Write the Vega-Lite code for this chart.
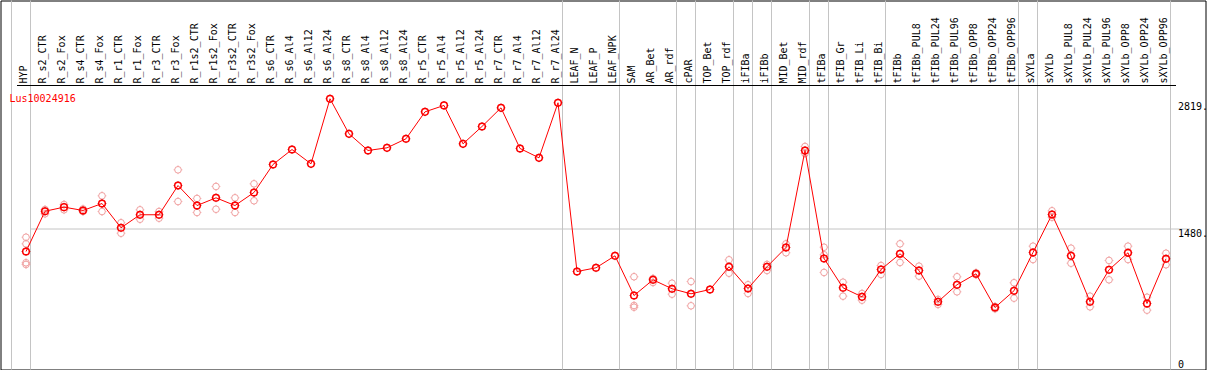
{
  "$schema": "https://vega.github.io/schema/vega-lite/v6.json",
  "width": 1205,
  "height": 369,
  "autosize": {"type": "none"},
  "padding": {"left": 0.5, "top": 0.5, "right": 3.5, "bottom": 0.5},
  "background": "white",
  "title": {"text": "Lus10024916", "orient": "top", "anchor": "start", "frame": "group", "offset": -112, "dx": 9, "baseline": "alphabetic", "color": "#ff0000", "font": "DejaVu Sans Mono", "fontSize": 10, "fontWeight": "normal"},
  "config": {"view": {"stroke": "#000000", "strokeWidth": 1}, "font": "DejaVu Sans Mono"},
  "datasets": {
    "means": [
      {"i": 1, "sample": "HYP", "group": "HYP", "mean": 1239},
      {"i": 2, "sample": "R_s2_CTR", "group": "R", "mean": 1662},
      {"i": 3, "sample": "R_s2_Fox", "group": "R", "mean": 1705},
      {"i": 4, "sample": "R_s4_CTR", "group": "R", "mean": 1670},
      {"i": 5, "sample": "R_s4_Fox", "group": "R", "mean": 1743},
      {"i": 6, "sample": "R_r1_CTR", "group": "R", "mean": 1488},
      {"i": 7, "sample": "R_r1_Fox", "group": "R", "mean": 1625},
      {"i": 8, "sample": "R_r3_CTR", "group": "R", "mean": 1625},
      {"i": 9, "sample": "R_r3_Fox", "group": "R", "mean": 1932},
      {"i": 10, "sample": "R_r1s2_CTR", "group": "R", "mean": 1722},
      {"i": 11, "sample": "R_r1s2_Fox", "group": "R", "mean": 1803},
      {"i": 12, "sample": "R_r3s2_CTR", "group": "R", "mean": 1722},
      {"i": 13, "sample": "R_r3s2_Fox", "group": "R", "mean": 1859},
      {"i": 14, "sample": "R_s6_CTR", "group": "R", "mean": 2153},
      {"i": 15, "sample": "R_s6_Al4", "group": "R", "mean": 2310},
      {"i": 16, "sample": "R_s6_Al12", "group": "R", "mean": 2160},
      {"i": 17, "sample": "R_s6_Al24", "group": "R", "mean": 2843},
      {"i": 18, "sample": "R_s8_CTR", "group": "R", "mean": 2475},
      {"i": 19, "sample": "R_s8_Al4", "group": "R", "mean": 2300},
      {"i": 20, "sample": "R_s8_Al12", "group": "R", "mean": 2328},
      {"i": 21, "sample": "R_s8_Al24", "group": "R", "mean": 2423},
      {"i": 22, "sample": "R_r5_CTR", "group": "R", "mean": 2706},
      {"i": 23, "sample": "R_r5_Al4", "group": "R", "mean": 2773},
      {"i": 24, "sample": "R_r5_Al12", "group": "R", "mean": 2370},
      {"i": 25, "sample": "R_r5_Al24", "group": "R", "mean": 2552},
      {"i": 26, "sample": "R_r7_CTR", "group": "R", "mean": 2748},
      {"i": 27, "sample": "R_r7_Al4", "group": "R", "mean": 2321},
      {"i": 28, "sample": "R_r7_Al12", "group": "R", "mean": 2223},
      {"i": 29, "sample": "R_r7_Al24", "group": "R", "mean": 2801},
      {"i": 30, "sample": "LEAF_N", "group": "LEAF", "mean": 1029},
      {"i": 31, "sample": "LEAF_P", "group": "LEAF", "mean": 1068},
      {"i": 32, "sample": "LEAF_NPK", "group": "LEAF", "mean": 1194},
      {"i": 33, "sample": "SAM", "group": "SAM_AR", "mean": 777},
      {"i": 34, "sample": "AR_Bet", "group": "SAM_AR", "mean": 942},
      {"i": 35, "sample": "AR_rdf", "group": "SAM_AR", "mean": 848},
      {"i": 36, "sample": "cPAR", "group": "cPAR", "mean": 795},
      {"i": 37, "sample": "TOP_Bet", "group": "TOP", "mean": 840},
      {"i": 38, "sample": "TOP_rdf", "group": "TOP", "mean": 1079},
      {"i": 39, "sample": "iFIBa", "group": "iFIBa", "mean": 851},
      {"i": 40, "sample": "iFIBb", "group": "iFIBb", "mean": 1079},
      {"i": 41, "sample": "MID_Bet", "group": "MID", "mean": 1281},
      {"i": 42, "sample": "MID_rdf", "group": "MID", "mean": 2300},
      {"i": 43, "sample": "tFIBa", "group": "tFIBa", "mean": 1166},
      {"i": 44, "sample": "tFIB_Gr", "group": "tFIB", "mean": 858},
      {"i": 45, "sample": "tFIB_Li", "group": "tFIB", "mean": 763},
      {"i": 46, "sample": "tFIB_Bi", "group": "tFIB", "mean": 1050},
      {"i": 47, "sample": "tFIBb", "group": "tFIBb", "mean": 1215},
      {"i": 48, "sample": "tFIBb_PUL8", "group": "tFIBb", "mean": 1040},
      {"i": 49, "sample": "tFIBb_PUL24", "group": "tFIBb", "mean": 711},
      {"i": 50, "sample": "tFIBb_PUL96", "group": "tFIBb", "mean": 890},
      {"i": 51, "sample": "tFIBb_OPP8", "group": "tFIBb", "mean": 1005},
      {"i": 52, "sample": "tFIBb_OPP24", "group": "tFIBb", "mean": 651},
      {"i": 53, "sample": "tFIBb_OPP96", "group": "tFIBb", "mean": 827},
      {"i": 54, "sample": "sXYLa", "group": "sXYLa", "mean": 1229},
      {"i": 55, "sample": "sXYLb", "group": "sXYLb", "mean": 1628},
      {"i": 56, "sample": "sXYLb_PUL8", "group": "sXYLb", "mean": 1194},
      {"i": 57, "sample": "sXYLb_PUL24", "group": "sXYLb", "mean": 711},
      {"i": 58, "sample": "sXYLb_PUL96", "group": "sXYLb", "mean": 1047},
      {"i": 59, "sample": "sXYLb_OPP8", "group": "sXYLb", "mean": 1226},
      {"i": 60, "sample": "sXYLb_OPP24", "group": "sXYLb", "mean": 693},
      {"i": 61, "sample": "sXYLb_OPP96", "group": "sXYLb", "mean": 1163}
    ],
    "reps": [
      {"i": 1, "sample": "HYP", "value": 1389}, {"i": 1, "sample": "HYP", "value": 1320}, {"i": 1, "sample": "HYP", "value": 1121}, {"i": 1, "sample": "HYP", "value": 1103},
      {"i": 2, "sample": "R_s2_CTR", "value": 1680}, {"i": 2, "sample": "R_s2_CTR", "value": 1635},
      {"i": 3, "sample": "R_s2_Fox", "value": 1733}, {"i": 3, "sample": "R_s2_Fox", "value": 1677},
      {"i": 4, "sample": "R_s4_CTR", "value": 1686}, {"i": 4, "sample": "R_s4_CTR", "value": 1659},
      {"i": 5, "sample": "R_s4_Fox", "value": 1824}, {"i": 5, "sample": "R_s4_Fox", "value": 1659},
      {"i": 6, "sample": "R_r1_CTR", "value": 1541}, {"i": 6, "sample": "R_r1_CTR", "value": 1431},
      {"i": 7, "sample": "R_r1_Fox", "value": 1677}, {"i": 7, "sample": "R_r1_Fox", "value": 1578},
      {"i": 8, "sample": "R_r3_CTR", "value": 1659}, {"i": 8, "sample": "R_r3_CTR", "value": 1589},
      {"i": 9, "sample": "R_r3_Fox", "value": 2097}, {"i": 9, "sample": "R_r3_Fox", "value": 1764},
      {"i": 10, "sample": "R_r1s2_CTR", "value": 1796}, {"i": 10, "sample": "R_r1s2_CTR", "value": 1649},
      {"i": 11, "sample": "R_r1s2_Fox", "value": 1922}, {"i": 11, "sample": "R_r1s2_Fox", "value": 1683},
      {"i": 12, "sample": "R_r3s2_CTR", "value": 1803}, {"i": 12, "sample": "R_r3s2_CTR", "value": 1649},
      {"i": 13, "sample": "R_r3s2_Fox", "value": 1950}, {"i": 13, "sample": "R_r3s2_Fox", "value": 1772},
      {"i": 33, "sample": "SAM", "value": 974}, {"i": 33, "sample": "SAM", "value": 672}, {"i": 33, "sample": "SAM", "value": 654},
      {"i": 34, "sample": "AR_Bet", "value": 956}, {"i": 34, "sample": "AR_Bet", "value": 914},
      {"i": 35, "sample": "AR_rdf", "value": 906}, {"i": 35, "sample": "AR_rdf", "value": 791},
      {"i": 36, "sample": "cPAR", "value": 924}, {"i": 36, "sample": "cPAR", "value": 669},
      {"i": 38, "sample": "TOP_rdf", "value": 1152}, {"i": 38, "sample": "TOP_rdf", "value": 1011},
      {"i": 39, "sample": "iFIBa", "value": 890}, {"i": 39, "sample": "iFIBa", "value": 798},
      {"i": 40, "sample": "iFIBb", "value": 1103}, {"i": 40, "sample": "iFIBb", "value": 1040},
      {"i": 41, "sample": "MID_Bet", "value": 1320}, {"i": 41, "sample": "MID_Bet", "value": 1226},
      {"i": 42, "sample": "MID_rdf", "value": 2342}, {"i": 42, "sample": "MID_rdf", "value": 2268},
      {"i": 43, "sample": "tFIBa", "value": 1284}, {"i": 43, "sample": "tFIBa", "value": 1205}, {"i": 43, "sample": "tFIBa", "value": 1019},
      {"i": 44, "sample": "tFIB_Gr", "value": 917}, {"i": 44, "sample": "tFIB_Gr", "value": 770},
      {"i": 45, "sample": "tFIB_Li", "value": 798}, {"i": 45, "sample": "tFIB_Li", "value": 728},
      {"i": 46, "sample": "tFIB_Bi", "value": 1092}, {"i": 46, "sample": "tFIB_Bi", "value": 998},
      {"i": 47, "sample": "tFIBb", "value": 1320}, {"i": 47, "sample": "tFIBb", "value": 1124},
      {"i": 48, "sample": "tFIBb_PUL8", "value": 1085}, {"i": 48, "sample": "tFIBb_PUL8", "value": 980},
      {"i": 49, "sample": "tFIBb_PUL24", "value": 735}, {"i": 49, "sample": "tFIBb_PUL24", "value": 683},
      {"i": 50, "sample": "tFIBb_PUL96", "value": 974}, {"i": 50, "sample": "tFIBb_PUL96", "value": 816},
      {"i": 51, "sample": "tFIBb_OPP8", "value": 1016}, {"i": 51, "sample": "tFIBb_OPP8", "value": 995},
      {"i": 52, "sample": "tFIBb_OPP24", "value": 662}, {"i": 52, "sample": "tFIBb_OPP24", "value": 637},
      {"i": 53, "sample": "tFIBb_OPP96", "value": 911}, {"i": 53, "sample": "tFIBb_OPP96", "value": 749},
      {"i": 54, "sample": "sXYLa", "value": 1295}, {"i": 54, "sample": "sXYLa", "value": 1155},
      {"i": 55, "sample": "sXYLb", "value": 1667}, {"i": 55, "sample": "sXYLb", "value": 1599},
      {"i": 56, "sample": "sXYLb_PUL8", "value": 1274}, {"i": 56, "sample": "sXYLb_PUL8", "value": 1116},
      {"i": 57, "sample": "sXYLb_PUL24", "value": 770}, {"i": 57, "sample": "sXYLb_PUL24", "value": 658},
      {"i": 58, "sample": "sXYLb_PUL96", "value": 1145}, {"i": 58, "sample": "sXYLb_PUL96", "value": 942},
      {"i": 59, "sample": "sXYLb_OPP8", "value": 1295}, {"i": 59, "sample": "sXYLb_OPP8", "value": 1155},
      {"i": 60, "sample": "sXYLb_OPP24", "value": 759}, {"i": 60, "sample": "sXYLb_OPP24", "value": 623},
      {"i": 61, "sample": "sXYLb_OPP96", "value": 1221}, {"i": 61, "sample": "sXYLb_OPP96", "value": 1100}
    ]
  },
  "data": {"name": "means"},
  "encoding": {
    "x": {
      "field": "sample",
      "type": "nominal",
      "sort": {"field": "i", "op": "min"},
      "scale": {"type": "band", "paddingInner": 0, "paddingOuter": 0, "range": [16, 1175]},
      "axis": {
        "orient": "top",
        "offset": -84.5,
        "title": null,
        "labelAngle": -90,
        "labelAlign": "left",
        "labelBaseline": "alphabetic",
        "labelPadding": 2,
        "labelOffset": 1,
        "labelFont": "DejaVu Sans Mono",
        "labelFontSize": 10,
        "labelColor": "#000000",
        "labelOverlap": false,
        "labelBound": false,
        "labelLimit": 0,
        "ticks": false,
        "domain": true,
        "domainColor": "#000000",
        "domainWidth": 1,
        "grid": false,
        "zindex": 1
      }
    }
  },
  "layer": [
    {
      "transform": [
        {"joinaggregate": [{"op": "max", "field": "i", "as": "gmax"}], "groupby": ["group"]},
        {"filter": "datum.i === datum.gmax"}
      ],
      "mark": {"type": "rule", "color": "#c4c4c4", "strokeWidth": 1},
      "encoding": {
        "x": {"field": "sample", "type": "nominal", "sort": {"field": "i", "op": "min"}, "bandPosition": 0.7368}
      }
    },
    {
      "transform": [{"filter": "datum.i === 1"}],
      "mark": {"type": "rule", "color": "#c4c4c4", "strokeWidth": 1},
      "encoding": {
        "x": {"field": "sample", "type": "nominal", "sort": {"field": "i", "op": "min"}, "bandPosition": -0.2632}
      }
    },
    {
      "data": {"name": "reps"},
      "mark": {"type": "point", "shape": "circle", "filled": false, "stroke": "#f0a0a0", "strokeWidth": 1, "size": 44, "opacity": 1},
      "encoding": {
        "x": {"field": "sample", "type": "nominal", "sort": {"field": "i", "op": "min"}},
        "y": {
          "field": "value",
          "type": "quantitative",
          "scale": {"domain": [0, 3875], "nice": false, "zero": true},
          "axis": {
            "orient": "right",
            "offset": -28,
            "title": null,
            "values": [0, 1480, 2819],
            "labelExpr": "datum.value === 0 ? '0' : datum.value + '.'",
            "labelAlign": "left",
            "labelBaseline": {"condition": {"test": "datum.value === 0", "value": "bottom"}, "value": "top"},
            "labelPadding": 0,
            "labelFont": "DejaVu Sans Mono",
            "labelFontSize": 10,
            "labelColor": "#000000",
            "labelFlush": false,
            "labelOverlap": false,
            "labelBound": false,
            "ticks": false,
            "tickSize": 0,
            "domain": false,
            "grid": true,
            "gridColor": "#c4c4c4",
            "gridWidth": 1,
            "gridOpacity": {"condition": {"test": "datum.value === 1480", "value": 1}, "value": 0}
          }
        }
      }
    },
    {
      "data": {"name": "reps"},
      "mark": {"type": "point", "shape": "M0,-0.96V-0.74M0,0.74V0.96M-0.96,0H-0.74M0.74,0H0.96", "filled": false, "stroke": "#f0a0a0", "strokeWidth": 1, "size": 81, "opacity": 1},
      "encoding": {
        "x": {"field": "sample", "type": "nominal", "sort": {"field": "i", "op": "min"}},
        "y": {"field": "value", "type": "quantitative"}
      }
    },
    {
      "mark": {"type": "line", "color": "#ff0000", "strokeWidth": 1},
      "encoding": {
        "y": {"field": "mean", "type": "quantitative"},
        "order": {"field": "i", "type": "quantitative"}
      }
    },
    {
      "mark": {"type": "point", "shape": "circle", "filled": false, "stroke": "#ff0000", "strokeWidth": 1.5, "size": 44, "opacity": 1},
      "encoding": {
        "y": {"field": "mean", "type": "quantitative"}
      }
    },
    {
      "mark": {"type": "point", "shape": "M0,-0.96V-0.74M0,0.74V0.96M-0.96,0H-0.74M0.74,0H0.96", "filled": false, "stroke": "#cc0000", "strokeWidth": 1, "size": 81, "opacity": 1},
      "encoding": {
        "y": {"field": "mean", "type": "quantitative"}
      }
    }
  ]
}
